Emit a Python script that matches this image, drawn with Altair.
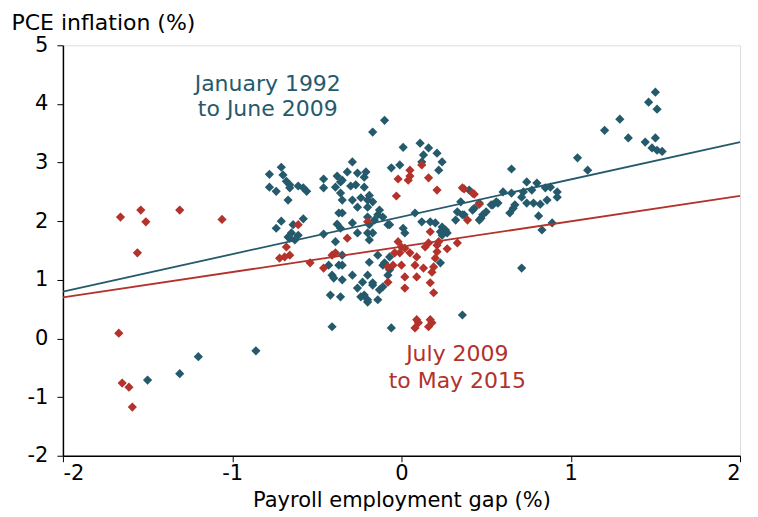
import altair as alt
import pandas as pd

# Teal series: January 1992 to June 2009 (x = payroll employment gap, y = PCE inflation)
teal_x = [-1.50, -1.31, -1.20, -0.86,
          -0.78, -0.71, -0.70, -0.68, -0.66, -0.66, -0.78, -0.74, -0.61, -0.58, -0.56, -0.67, -0.71, -0.74, -0.58, -0.64, -0.65, -0.67, -0.61, -0.63, -0.66,
          -0.46, -0.46, -0.39, -0.38, -0.36, -0.29, -0.32, -0.26, -0.21, -0.22, -0.35, -0.30, -0.27, -0.22, -0.36, -0.35, -0.29, -0.24, -0.20, -0.19, -0.17, -0.26, -0.20, -0.13, -0.14, -0.11, -0.35, -0.37, -0.29, -0.38, -0.16, -0.08, -0.20, -0.19, -0.20, -0.26, -0.17, -0.19, -0.36, -0.46, -0.39, -0.17, -0.10,
          0.01, 0.11, 0.16, 0.21, 0.13, 0.24, 0.12, -0.06, -0.01, 0.22, 0.01, 0.02, 0.08, 0.12, 0.20, 0.24, 0.27, 0.23, -0.07, 0.17, 0.26, 0.24,
          0.35, 0.33, 0.32, 0.37, 0.42, 0.46, 0.47, 0.50, 0.53, 0.56, 0.40, 0.43, 0.48, 0.46, 0.36,
          0.57, 0.54, 0.60, 0.65, 0.65, 0.64, 0.67, 0.66, 0.71, 0.72, 0.74, 0.74, 0.77, 0.78, 0.80, 0.82, 0.81, 0.83, 0.85, 0.86, 0.88, 0.89, 0.92, 0.92, 0.71,
          1.04, 1.10, 1.20, 1.29, 1.34, 1.44, 1.46, 1.50, 1.51, 1.50, 1.48, 1.51, 1.54,
          -0.43, -0.37, -0.41, -0.40, -0.35, -0.42, -0.36, -0.41, -0.35, -0.35, -0.19, -0.14, -0.07, -0.29, -0.20, -0.23, -0.17, -0.26, -0.13, -0.11, -0.22, -0.20, -0.14, -0.08, -0.07, -0.11, -0.10, -0.17, -0.06, 0.36, 0.23, -0.24, -0.20]
teal_y = [-0.71, -0.60, -0.31, -0.21,
          2.80, 2.92, 2.79, 2.68, 2.62, 2.57, 2.58, 2.51, 2.60, 2.57, 2.51, 2.36, 2.00, 1.88, 2.04, 1.94, 1.80, 1.73, 1.76, 1.68, 1.71,
          2.72, 2.57, 2.58, 2.77, 2.67, 3.01, 2.84, 2.82, 2.84, 2.75, 2.70, 2.60, 2.62, 2.58, 2.48, 2.36, 2.36, 2.40, 2.36, 2.44, 2.33, 2.24, 2.24, 2.19, 2.11, 2.07, 2.14, 2.14, 1.97, 1.95, 2.02, 1.94, 2.07, 1.94, 1.80, 1.80, 1.80, 1.68, 1.88, 1.78, 1.65, 3.52, 3.72,
          3.26, 3.33, 3.25, 3.16, 3.13, 3.01, 3.01, 2.91, 2.96, 2.87, 1.88, 1.80, 2.14, 1.99, 1.97, 1.90, 1.80, 1.82, 1.94, 1.99, 1.85, 1.76,
          2.33, 2.16, 2.02, 2.11, 2.19, 2.31, 2.05, 2.16, 2.28, 2.33, 2.53, 2.22, 2.11, 2.02, 2.11,
          2.31, 2.28, 2.50, 2.48, 2.89, 2.14, 2.28, 2.22, 2.41, 2.50, 2.67, 2.31, 2.53, 2.31, 2.65, 2.29, 2.09, 1.85, 2.57, 2.36, 2.58, 1.97, 2.41, 2.50, 1.20,
          3.08, 2.87, 3.55, 3.74, 3.42, 3.35, 4.03, 4.20, 3.91, 3.42, 3.25, 3.21, 3.19,
          1.25, 1.25, 1.08, 1.03, 1.00, 0.74, 0.71, 0.20, 1.42, 1.25, 1.30, 1.42, 1.39, 1.08, 1.08, 0.96, 0.95, 0.86, 0.83, 0.88, 0.74, 0.62, 0.66, 1.08, 1.17, 1.25, 1.29, 0.91, 0.18, 0.40, 1.29, 0.71, 0.66]

# Red series: July 2009 to May 2015
red_x = [-1.66, -1.54, -1.51, -1.31, -1.06, -1.56, -1.67, -1.65, -1.61, -1.59,
         -0.61, -0.68, -0.72, -0.69, -0.66, -0.54, -0.46, -0.41, -0.39, -0.32, -0.20,
         0.05, 0.05, 0.04, -0.02, 0.12, 0.16, 0.21, -0.03, 0.36, 0.42, 0.46, 0.39, 0.17, 0.33, 0.27,
         -0.02, 0.00, 0.02, -0.01, -0.04, 0.05, 0.09, 0.16, 0.21, 0.21, 0.22, 0.14,
         -0.08, -0.05, 0.00, 0.08, 0.13, 0.19, 0.20, 0.18, -0.08, 0.02, 0.09, 0.17, 0.02, 0.19,
         0.08, 0.09, 0.10, 0.17, 0.18, 0.16, 0.37, 0.43]
red_y = [2.07, 2.19, 1.99, 2.19, 2.03, 1.46, 0.09, -0.76, -0.83, -1.17,
         1.94, 1.56, 1.37, 1.39, 1.42, 1.29, 1.20, 1.42, 1.46, 1.71, 1.99,
         2.87, 2.77, 2.70, 2.72, 2.96, 2.74, 2.53, 2.43, 2.57, 2.48, 2.29, 2.02, 1.82, 1.63, 1.53,
         1.65, 1.56, 1.54, 1.46, 1.46, 1.46, 1.39, 1.63, 1.59, 1.48, 1.65, 1.56,
         1.22, 1.25, 1.25, 1.25, 1.20, 1.22, 1.37, 1.13, 0.96, 1.05, 1.05, 0.95, 0.86, 0.78,
         0.18, 0.32, 0.27, 0.32, 0.27, 0.20, 2.55, 2.46]

# Fitted lines (endpoints at x = -2 and x = 2)
line_x = [-2, 2]
teal_line_y = [0.80, 3.35]
red_line_y = [0.70, 2.43]

# Annotations
labels = ["January 1992", "to June 2009", "July 2009", "to May 2015"]
label_x = [-0.79, -0.79, 0.33, 0.33]
label_y = [4.34, 3.91, -0.26, -0.73]
label_series = ["teal", "teal", "red", "red"]

x_ticks = [-2, -1, 0, 1, 2]
y_ticks = [-2, -1, 0, 1, 2, 3, 4, 5]

TEAL = "#255a6c"
RED = "#b3322b"
FONT = "DejaVu Sans"

teal_df = pd.DataFrame({"gap": teal_x, "pce": teal_y})
red_df = pd.DataFrame({"gap": red_x, "pce": red_y})
lines_df = pd.DataFrame({
    "gap": line_x + line_x,
    "pce": teal_line_y + red_line_y,
    "series": ["teal", "teal", "red", "red"],
})
lab_df = pd.DataFrame({"text": labels, "gap": label_x, "pce": label_y, "series": label_series})

xscale = alt.Scale(domain=[-2, 2], nice=False, zero=False)
yscale = alt.Scale(domain=[-2, 5], nice=False, zero=False)

xaxis = alt.Axis(values=x_ticks, grid=False, domain=True, domainColor="black", domainWidth=1.5,
                 tickColor="black", tickSize=6, labelFontSize=21, labelFont=FONT, labelColor="black",
                 labelExpr="'' + datum.value", labelPadding=1,
                 title="Payroll employment gap (%)", titleFont=FONT, titleFontSize=21,
                 titleFontWeight="normal", titleColor="black", titlePadding=6)
yaxis = alt.Axis(values=y_ticks, grid=False, domain=True, domainColor="black", domainWidth=1.5,
                 tickColor="black", tickSize=6, labelFontSize=21, labelFont=FONT, labelColor="black",
                 labelExpr="'' + datum.value", labelPadding=9,
                 title="PCE inflation (%)", titleFont=FONT, titleFontSize=22, titleFontWeight="normal",
                 titleColor="black", titleAngle=0, titleAlign="left", titleBaseline="alphabetic",
                 titleX=-52, titleY=-16)

x_enc = alt.X("gap:Q", scale=xscale, axis=xaxis)
y_enc = alt.Y("pce:Q", scale=yscale, axis=yaxis)

teal_pts = alt.Chart(teal_df).mark_point(shape="diamond", filled=True, opacity=1, size=85, color=TEAL).encode(
    x=x_enc, y=y_enc)
red_pts = alt.Chart(red_df).mark_point(shape="diamond", filled=True, opacity=1, size=85, color=RED).encode(
    x="gap:Q", y="pce:Q")

color_scale = alt.Scale(domain=["teal", "red"], range=[TEAL, RED])
lines = alt.Chart(lines_df).mark_line(strokeWidth=1.8, clip=True).encode(
    x="gap:Q", y="pce:Q",
    color=alt.Color("series:N", scale=color_scale, legend=None),
    detail="series:N")

texts = alt.Chart(lab_df).mark_text(font=FONT, fontSize=22, align="center", baseline="middle").encode(
    x="gap:Q", y="pce:Q", text="text:N",
    color=alt.Color("series:N", scale=color_scale, legend=None))

chart = alt.layer(teal_pts, red_pts, lines, texts).properties(
    width=678, height=411,
    autosize=alt.AutoSizeParams(type="none"),
    padding={"left": 55, "top": 37, "right": 10, "bottom": 61},
).configure_view(stroke=None).configure(background="white")

chart.save("out.html", embed_options={"renderer": "svg", "actions": False})
